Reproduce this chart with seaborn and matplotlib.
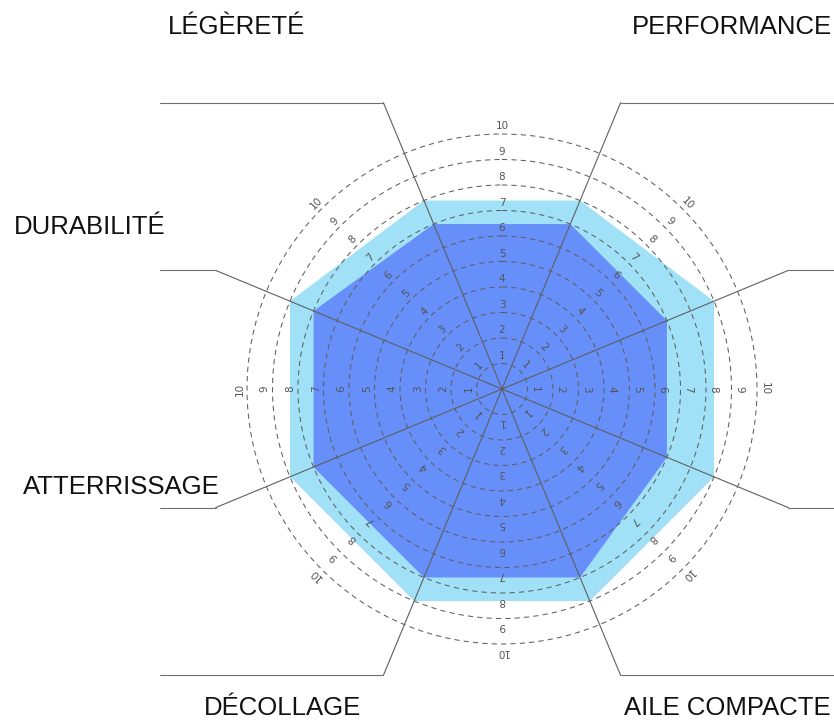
import numpy as np
import seaborn as sns
import matplotlib.pyplot as plt

# categories clockwise, starting with the top-right spoke
categories = ["PERFORMANCE", "", "", "AILE COMPACTE",
              "DÉCOLLAGE", "ATTERRISSAGE", "DURABILITÉ", "LÉGÈRETÉ"]
outer_values = [8, 9, 9, 9, 9, 9, 9, 8]
inner_values = [7, 7, 7, 8, 8, 8, 8, 7]
rings = [1, 2, 3, 4, 5, 6, 7, 8, 9, 10]

sns.set_theme(style="white")
plt.rcParams['font.family'] = ['Liberation Sans', 'DejaVu Sans']

W, H = 834, 721
CX, CY = 502, 389      # chart centre in pixels
PX = 25.5              # pixels per unit
R_MAX = 12.2
SPOKE_R = 310 / PX

fig = plt.figure(figsize=(W / 100, H / 100), dpi=100)
rpx = R_MAX * PX
ax = fig.add_axes([(CX - rpx) / W, (H - CY - rpx) / H, 2 * rpx / W, 2 * rpx / H],
                  projection='polar')
ax.set_theta_zero_location('N')
ax.set_theta_direction(-1)
ax.set_ylim(0, R_MAX)
ax.patch.set_alpha(0)
ax.spines['polar'].set_visible(False)

angles = np.deg2rad(22.5 + 45 * np.arange(len(categories)))
closed = np.append(angles, angles[0])

ax.fill(closed, outer_values + outer_values[:1], color='#a1e1f8', lw=0, zorder=1)
ax.fill(closed, inner_values + inner_values[:1], color='#668ffa', lw=0, zorder=1.1)

# dashed rings
ax.set_xticks([])
ax.set_yticks(rings)
ax.set_yticklabels([])
ax.set_axisbelow(False)
ax.xaxis.grid(False)
ax.yaxis.grid(True, color='#5f5f5f', lw=0.75, linestyle=(0, (5, 4)))

# spokes
for a in angles:
    ax.plot([a, a], [0, SPOKE_R], color='#5f5f5f', lw=0.8, clip_on=False, zorder=3)

# ring numbers along the bisectors
for d in range(0, 360, 45):
    for k in rings:
        ax.text(np.deg2rad(d), k + 0.3, str(k), rotation=-d, rotation_mode='anchor',
                ha='center', va='center', fontsize=7.5, color='#555555',
                family='DejaVu Sans', zorder=4)

# overlay in pixel coordinates for leader lines and labels
ov = fig.add_axes([0, 0, 1, 1])
ov.set_xlim(0, W)
ov.set_ylim(H, 0)
ov.axis('off')
ov.patch.set_alpha(0)

label_pos = {
    "PERFORMANCE": (832, 34, 'right'),
    "AILE COMPACTE": (831, 715, 'right'),
    "DÉCOLLAGE": (204, 715, 'left'),
    "ATTERRISSAGE": (23, 494, 'left'),
    "DURABILITÉ": (14, 234, 'left'),
    "LÉGÈRETÉ": (168, 34, 'left'),
}

for cat, a in zip(categories, angles):
    ex = CX + 310 * np.sin(a)
    ey = CY - 310 * np.cos(a)
    end_x = 160 if np.sin(a) < 0 else 2 * CX - 160
    ov.plot([ex, end_x], [ey, ey], color='#6f6f6f', lw=0.8)
    if cat in label_pos:
        x, y, ha = label_pos[cat]
        ov.text(x, y, cat, ha=ha, va='baseline', fontsize=18.5, color='#111111')

fig.savefig('out.png', dpi=100)
